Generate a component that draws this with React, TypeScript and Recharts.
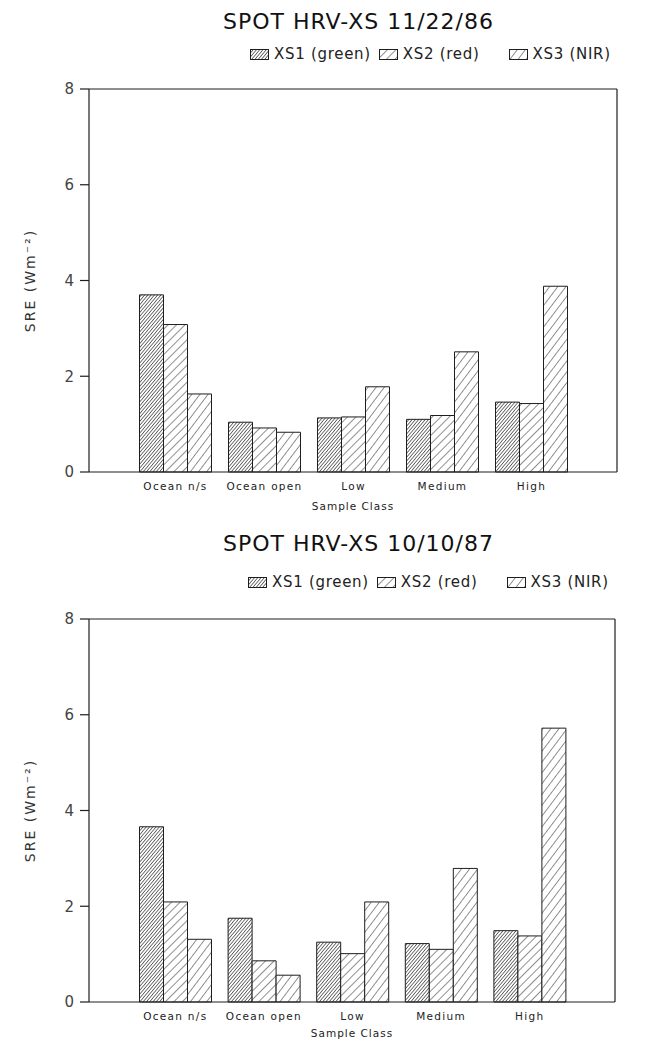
import React from 'react';
import { ComposedChart, Bar, Line, XAxis, YAxis, Legend } from 'recharts';

const categories = ['Ocean n/s', 'Ocean open', 'Low', 'Medium', 'High'];
const seriesNames = ['XS1 (green)', 'XS2 (red)', 'XS3 (NIR)'];
const yTicks = [0, 2, 4, 6, 8];

const xs1_861122 = [3.7, 1.04, 1.13, 1.1, 1.46];
const xs2_861122 = [3.08, 0.92, 1.15, 1.18, 1.43];
const xs3_861122 = [1.63, 0.83, 1.78, 2.51, 3.88];

const xs1_871010 = [3.66, 1.75, 1.25, 1.22, 1.49];
const xs2_871010 = [2.09, 0.86, 1.01, 1.1, 1.38];
const xs3_871010 = [1.31, 0.56, 2.09, 2.79, 5.72];

const build = (a: number[], b: number[], c: number[]) =>
  categories.map((name, i) => ({ name, xs1: a[i], xs2: b[i], xs3: c[i] }));

const data1 = build(xs1_861122, xs2_861122, xs3_861122);
const data2 = build(xs1_871010, xs2_871010, xs3_871010);

const FONT = '"DejaVu Sans", sans-serif';
const INK = '#1e1e1e';

const Patterns = ({ p }: { p: string }) => (
  <defs>
    <pattern id={`${p}-1`} patternUnits="userSpaceOnUse" width="2.5" height="2.5" patternTransform="rotate(40)">
      <rect width="2.5" height="2.5" fill="#fff" />
      <line x1="0" y1="0" x2="0" y2="2.5" stroke="#2a2a2a" strokeWidth="1.3" />
    </pattern>
    <pattern id={`${p}-2`} patternUnits="userSpaceOnUse" width="6" height="6" patternTransform="rotate(45)">
      <rect width="6" height="6" fill="#fff" />
      <line x1="0" y1="0" x2="0" y2="6" stroke="#222" strokeWidth="1" />
    </pattern>
    <pattern id={`${p}-3`} patternUnits="userSpaceOnUse" width="6.5" height="6.5" patternTransform="rotate(37)">
      <rect width="6.5" height="6.5" fill="#fff" />
      <line x1="0" y1="0" x2="0" y2="6.5" stroke="#222" strokeWidth="1" />
    </pattern>
  </defs>
);

const makeLegend = (p: string) => (props: any) => {
  const items = (props.payload || []).filter((it: any) => it.type !== 'none');
  const gaps = [8, 29, 0];
  return (
    <div style={{ display: 'flex', alignItems: 'center', fontFamily: FONT, fontSize: 15, letterSpacing: 0.7, color: '#222', whiteSpace: 'nowrap' }}>
      {items.map((it: any, i: number) => (
        <div key={i} style={{ display: 'flex', alignItems: 'center', marginRight: gaps[i] }}>
          <svg width={19} height={11} style={{ marginRight: 5 }}>
            <rect x={0.5} y={0.5} width={18} height={10} fill={`url(#${p}-${i + 1})`} stroke={INK} strokeWidth={1} />
          </svg>
          <span>{it.value}</span>
        </div>
      ))}
    </div>
  );
};

type ChartProps = {
  title: string;
  data: any[];
  p: string;
  top: number;
  height: number;
  marginRight: number;
  titleTop: number;
  legendTop: number;
  legendLeft: number;
  xAxisHeight: number;
};

const Panel = ({ title, data, p, top, height, marginRight, titleTop, legendTop, legendLeft, xAxisHeight }: ChartProps) => (
  <div style={{ position: 'absolute', left: 0, top, width: 663, height }}>
    <div
      style={{
        position: 'absolute',
        top: titleTop,
        left: 0,
        width: 663,
        textAlign: 'center',
        fontFamily: FONT,
        fontSize: 22,
        letterSpacing: 1,
        color: '#111',
        paddingLeft: 54,
        boxSizing: 'border-box',
      }}
    >
      {title}
    </div>
    <ComposedChart
      width={663}
      height={height}
      data={data}
      margin={{ top: 88, right: marginRight - 1, bottom: height - 89 - 383 - xAxisHeight, left: 20 }}
      barCategoryGap={8.5}
      barGap={0}
    >
      <Patterns p={p} />
      <XAxis
        dataKey="name"
        padding={{ left: 42, right: 41 }}
        tickLine={false}
        axisLine={{ stroke: INK, strokeWidth: 1.2 }}
        height={xAxisHeight}
        tick={{ fontFamily: FONT, fontSize: 10.5, fill: '#222', letterSpacing: 1.3 }}
        tickMargin={5}
        label={{ value: 'Sample Class', position: 'insideBottom', offset: 2, style: { fontFamily: FONT, fontSize: 10.5, fill: '#222', letterSpacing: 1 } }}
      />
      <XAxis
        xAxisId="top"
        dataKey="name"
        orientation="top"
        height={1}
        tick={false}
        tickLine={false}
        axisLine={{ stroke: INK, strokeWidth: 1.2 }}
      />
      <YAxis
        domain={[0, 8]}
        ticks={yTicks}
        width={69}
        tickSize={9}
        tickMargin={6}
        axisLine={{ stroke: INK, strokeWidth: 1.2 }}
        tickLine={{ stroke: INK, strokeWidth: 1.2 }}
        tick={{ fontFamily: FONT, fontSize: 15, fill: '#444' }}
        label={{
          value: 'SRE (Wm⁻²)',
          angle: -90,
          position: 'insideLeft',
          offset: 10,
          style: { textAnchor: 'middle', fontFamily: FONT, fontSize: 14, fill: '#333', letterSpacing: 2 },
        }}
      />
      <YAxis
        yAxisId="right"
        orientation="right"
        domain={[0, 8]}
        width={1}
        tick={false}
        tickLine={false}
        axisLine={{ stroke: INK, strokeWidth: 1.2 }}
      />
      <Legend
        verticalAlign="middle"
        align="center"
        layout="horizontal"
        content={makeLegend(p)}
        wrapperStyle={{ position: 'absolute', top: legendTop, left: legendLeft, width: 'auto' }}
      />
      <Bar dataKey="xs1" name={seriesNames[0]} fill={`url(#${p}-1)`} stroke={INK} strokeWidth={1} isAnimationActive={false} />
      <Bar dataKey="xs2" name={seriesNames[1]} fill={`url(#${p}-2)`} stroke={INK} strokeWidth={1} isAnimationActive={false} />
      <Bar dataKey="xs3" name={seriesNames[2]} fill={`url(#${p}-3)`} stroke={INK} strokeWidth={1} isAnimationActive={false} />
      <Line
        xAxisId="top"
        yAxisId="right"
        dataKey="xs1"
        stroke="none"
        dot={false}
        activeDot={false}
        legendType="none"
        isAnimationActive={false}
      />
    </ComposedChart>
  </div>
);

export default function App() {
  return (
    <div style={{ position: 'absolute', left: 0, top: 0, width: 663, height: 1042, background: '#fff' }}>
      <Panel
        title="SPOT HRV-XS 11/22/86"
        data={data1}
        p="a"
        top={0}
        height={525}
        marginRight={46}
        titleTop={9}
        legendTop={45}
        legendLeft={250}
        xAxisHeight={40}
      />
      <Panel
        title="SPOT HRV-XS 10/10/87"
        data={data2}
        p="b"
        top={530}
        height={512}
        marginRight={48}
        titleTop={1}
        legendTop={43}
        legendLeft={248}
        xAxisHeight={37}
      />
    </div>
  );
}
